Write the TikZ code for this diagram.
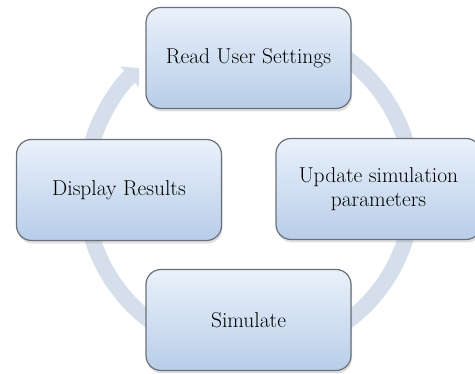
\documentclass[tikz,border=0pt]{standalone}
\usepackage{tikz}
\usetikzlibrary{positioning}
\usetikzlibrary{calc,shadows,arrows.meta}

\definecolor{ringblue}{RGB}{213,223,236}
\definecolor{boxtop}{RGB}{234,241,250}
\definecolor{boxbottom}{RGB}{184,205,233}
\definecolor{boxline}{RGB}{105,112,122}

\tikzset{
	stepbox/.style={rounded corners=15pt, minimum width=205pt, minimum height=101pt,
		top color=boxtop, bottom color=boxbottom, draw=boxline, line width=1.2pt,
		drop shadow={shadow xshift=1pt, shadow yshift=-3pt, opacity=0.25},
		font=\fontsize{21.5}{24}\selectfont, align=center, inner sep=0pt},
	ringarrow/.style={draw=ringblue, line width=16pt,
		-{Triangle[width=27pt, length=13pt]}}
}

\begin{document}
\begin{tikzpicture}[x=1pt,y=1pt]
	
	\useasboundingbox (0,0) rectangle (475,374);
	
	% centre of the cycle
	\coordinate (C) at (249,184);
	
	% the ring runs clockwise, from behind the top box round to its left side
	\draw[ringarrow] ($(C)+(70:164)$) arc[start angle=70, end angle=-228, radius=164];
	
	% the four steps
	\node[stepbox] (S1) at (248.5,316) {Read User Settings};
	\node[stepbox] (S2) at (378.5,185) {Update simulation\\parameters};
	\node[stepbox] (S3) at (248.5,54) {Simulate};
	\node[stepbox] (S4) at (119,184) {Display Results};
	
\end{tikzpicture}
\end{document}
